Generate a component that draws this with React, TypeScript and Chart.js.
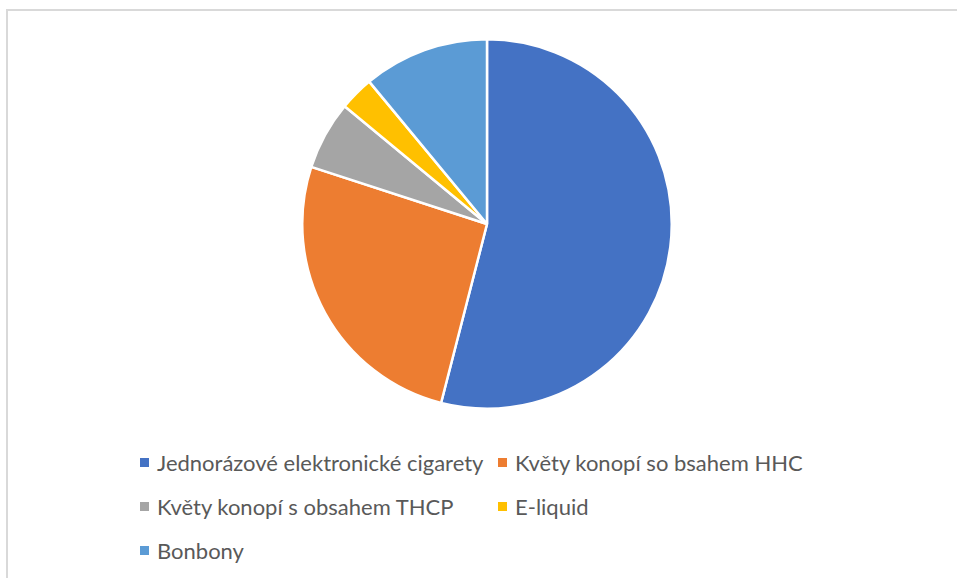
import React, { useEffect, useRef } from "react";
import { Chart, registerables } from "chart.js";

Chart.register(...registerables);

const categories = [
  "Jednorázové elektronické cigarety",
  "Květy konopí so bsahem HHC",
  "Květy konopí s obsahem THCP",
  "E-liquid",
  "Bonbony",
];
const values = [54, 26, 6, 3, 11];
const colors = ["#4472C4", "#ED7D31", "#A5A5A5", "#FFC000", "#5B9BD5"];

const FONT = "Lato, 'Open Sans', sans-serif";

export default function App() {
  const canvasRef = useRef<HTMLCanvasElement | null>(null);

  useEffect(() => {
    if (!canvasRef.current) return;
    const chart = new Chart(canvasRef.current, {
      type: "pie",
      data: {
        labels: categories,
        datasets: [
          {
            data: values,
            backgroundColor: colors,
            borderColor: "#ffffff",
            borderWidth: 2.5,
          },
        ],
      },
      options: {
        animation: false,
        responsive: true,
        maintainAspectRatio: false,
        layout: { padding: 0 },
        plugins: {
          legend: { display: false },
          tooltip: { enabled: false },
        },
      },
    });
    return () => chart.destroy();
  }, []);

  return (
    <div
      style={{
        position: "fixed",
        left: 0,
        top: 0,
        width: 957,
        height: 578,
        overflow: "hidden",
        background: "#ffffff",
      }}
    >
      <div
        style={{
          position: "absolute",
          left: 6,
          top: 9,
          width: 1000,
          height: 640,
          border: "2px solid #d9d9d9",
          boxSizing: "border-box",
        }}
      />
      <div
        style={{
          position: "absolute",
          left: 301,
          top: 38,
          width: 372,
          height: 372,
        }}
      >
        <canvas ref={canvasRef} />
      </div>
      <div
        style={{
          position: "absolute",
          left: 140,
          top: 440,
          display: "grid",
          gridTemplateColumns: "358px 358px",
          gridAutoRows: "44px",
          fontFamily: FONT,
          fontSize: 22,
          color: "#595959",
        }}
      >
        {categories.map((c, i) => (
          <div
            key={c}
            style={{ display: "flex", alignItems: "center", whiteSpace: "nowrap" }}
          >
            <span
              style={{
                display: "inline-block",
                width: 9,
                height: 9,
                background: colors[i],
                marginRight: 8,
                flex: "none",
              }}
            />
            <span>{c}</span>
          </div>
        ))}
      </div>
    </div>
  );
}
